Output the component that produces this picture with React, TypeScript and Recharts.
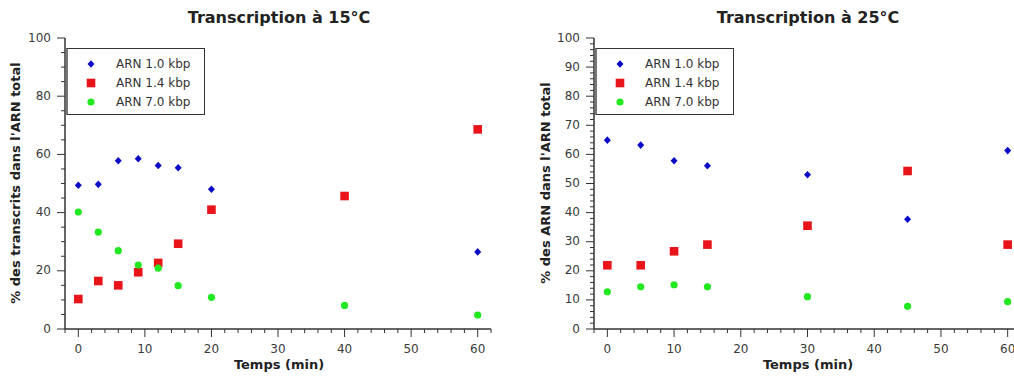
import React from 'react';
import { ScatterChart, Scatter, XAxis, YAxis } from 'recharts';

// temps de prélèvement (min)
const times15 = [0, 3, 6, 9, 12, 15, 20, 40, 60];
const times25 = [0, 5, 10, 15, 30, 45, 60];

// % des transcrits, 15°C (null = pas de mesure)
const arn10at15 = [49.4, 49.7, 57.8, 58.5, 56.2, 55.4, 48.0, null, 26.5];
const arn14at15 = [10.3, 16.5, 15.0, 19.5, 22.7, 29.3, 41.0, 45.7, 68.6];
const arn70at15 = [40.2, 33.3, 26.9, 22.0, 20.9, 14.9, 10.9, 8.1, 4.8];

// % des ARN, 25°C
const arn10at25 = [64.9, 63.2, 57.8, 56.1, 53.0, 37.7, 61.3];
const arn14at25 = [21.9, 21.9, 26.7, 29.0, 35.5, 54.3, 29.0];
const arn70at25 = [12.8, 14.5, 15.2, 14.5, 11.1, 7.8, 9.4];

const seriesNames = ['ARN 1.0 kbp', 'ARN 1.4 kbp', 'ARN 7.0 kbp'];

const xTicks = [-2, 0, 2, 4, 6, 8, 10, 12, 14, 16, 18, 20, 22, 24, 26, 28, 30, 32, 34, 36, 38, 40, 42, 44, 46, 48, 50, 52, 54, 56, 58, 60, 62];
const yTicks15 = [0, 5, 10, 15, 20, 25, 30, 35, 40, 45, 50, 55, 60, 65, 70, 75, 80, 85, 90, 95, 100];
const yTicks25 = [0, 2, 4, 6, 8, 10, 12, 14, 16, 18, 20, 22, 24, 26, 28, 30, 32, 34, 36, 38, 40, 42, 44, 46, 48, 50, 52, 54, 56, 58, 60, 62, 64, 66, 68, 70, 72, 74, 76, 78, 80, 82, 84, 86, 88, 90, 92, 94, 96, 98, 100];

const BLUE = '#0a0ac8';
const RED = '#e8141a';
const GREEN = '#22e822';
const FONT = '"DejaVu Sans", sans-serif';

const toPoints = (xs: number[], ys: (number | null)[]) =>
  xs.map((x, i) => ({ x, y: ys[i] })).filter(p => p.y !== null);

const Diamond = (p: any) => (
  <polygon
    points={`${p.cx},${p.cy - 3.8} ${p.cx + 3.5},${p.cy} ${p.cx},${p.cy + 3.8} ${p.cx - 3.5},${p.cy}`}
    fill={BLUE}
  />
);
const Square = (p: any) => <rect x={p.cx - 4.3} y={p.cy - 4.3} width={8.6} height={8.6} fill={RED} />;
const Dot = (p: any) => <circle cx={p.cx} cy={p.cy} r={3.6} fill={GREEN} />;

const XTick = (props: any) => {
  const { x, y, payload } = props;
  const v = payload.value;
  const major = v >= 0 && v % 10 === 0;
  return (
    <g>
      <line x1={x} y1={y} x2={x} y2={y + (major ? 8 : 4)} stroke="#333" />
      {major && (
        <text x={x} y={y + 20} textAnchor="middle" dominantBaseline="middle" fontSize={12} fill="#3a3a3a" fontFamily={FONT}>
          {v}
        </text>
      )}
    </g>
  );
};

const makeYTick = (step: number) => (props: any) => {
  const { x, y, payload } = props;
  const v = payload.value;
  const major = v % step === 0;
  return (
    <g>
      <line x1={x} y1={y} x2={x - (major ? 8 : 4)} y2={y} stroke="#333" />
      {major && (
        <text x={x - 14} y={y} textAnchor="end" dominantBaseline="middle" fontSize={12} fill="#3a3a3a" fontFamily={FONT}>
          {v}
        </text>
      )}
    </g>
  );
};

const LegendBox = ({ left }: { left: number }) => {
  const marks = [
    <svg width={10} height={10}><polygon points="5,1.2 8.5,5 5,8.8 1.5,5" fill={BLUE} /></svg>,
    <svg width={10} height={10}><rect x={0.7} y={0.7} width={8.6} height={8.6} fill={RED} /></svg>,
    <svg width={10} height={10}><circle cx={5} cy={5} r={3.6} fill={GREEN} /></svg>,
  ];
  return (
    <div
      style={{
        position: 'absolute', left, top: 48, width: 136, height: 65,
        border: '1px solid #333', borderLeft: '2px solid #777', background: 'white',
        fontFamily: FONT, fontSize: 12, color: '#333',
      }}
    >
      {seriesNames.map((n, i) => (
        <div key={n} style={{ position: 'absolute', top: 7 + i * 19, left: 0, height: 16, display: 'flex', alignItems: 'center' }}>
          <div style={{ width: 10, marginLeft: 18, display: 'flex' }}>{marks[i]}</div>
          <span style={{ marginLeft: 20 }}>{n}</span>
        </div>
      ))}
    </div>
  );
};

const Panel = ({ left, width, marginLeft, title, titleX, yLabel, yLabelX, yTicks, yStep, data }: any) => (
  <div style={{ position: 'absolute', left, top: 0, width, height: 376 }}>
    <ScatterChart width={width} height={376} margin={{ top: 38, right: 14, bottom: 17, left: marginLeft }}>
      <XAxis
        type="number" dataKey="x" domain={[-2, 62]} ticks={xTicks} interval={0}
        tickSize={0} tickMargin={0} tick={XTick} height={30}
        axisLine={{ stroke: '#333', strokeWidth: 1.5 }}
      />
      <YAxis
        type="number" dataKey="y" domain={[0, 100]} ticks={yTicks} interval={0}
        tickSize={0} tickMargin={0} tick={makeYTick(yStep)} width={50}
        axisLine={{ stroke: '#333', strokeWidth: 1.5 }}
      />
      <Scatter data={data[0]} fill={BLUE} shape={Diamond} isAnimationActive={false} />
      <Scatter data={data[1]} fill={RED} shape={Square} isAnimationActive={false} />
      <Scatter data={data[2]} fill={GREEN} shape={Dot} isAnimationActive={false} />
    </ScatterChart>
    <div style={{ position: 'absolute', left: titleX - left, top: 17, transform: 'translate(-50%, -50%)', whiteSpace: 'nowrap', fontFamily: FONT, fontWeight: 'bold', fontSize: 16, color: '#222' }}>
      {title}
    </div>
    <div style={{ position: 'absolute', left: titleX - left, top: 364, transform: 'translate(-50%, -50%)', whiteSpace: 'nowrap', fontFamily: FONT, fontWeight: 'bold', fontSize: 13, color: '#222' }}>
      Temps (min)
    </div>
    <div style={{ position: 'absolute', left: yLabelX - left, top: 183, transform: 'translate(-50%, -50%) rotate(-90deg)', whiteSpace: 'nowrap', fontFamily: FONT, fontWeight: 'bold', fontSize: 13, color: '#222' }}>
      {yLabel}
    </div>
  </div>
);

export default function App() {
  return (
    <div style={{ position: 'absolute', left: 0, top: 0, width: 1014, height: 376, overflow: 'hidden', background: 'white' }}>
      <Panel
        left={0} width={505} marginLeft={15}
        title="Transcription à 15°C" titleX={279}
        yLabel="% des transcrits dans l'ARN total" yLabelX={15}
        yTicks={yTicks15} yStep={20}
        data={[toPoints(times15, arn10at15), toPoints(times15, arn14at15), toPoints(times15, arn70at15)]}
      />
      <Panel
        left={505} width={530} marginLeft={39}
        title="Transcription à 25°C" titleX={808}
        yLabel="% des ARN dans l'ARN total" yLabelX={545}
        yTicks={yTicks25} yStep={10}
        data={[toPoints(times25, arn10at25), toPoints(times25, arn14at25), toPoints(times25, arn70at25)]}
      />
      <LegendBox left={66} />
      <LegendBox left={595} />
    </div>
  );
}
